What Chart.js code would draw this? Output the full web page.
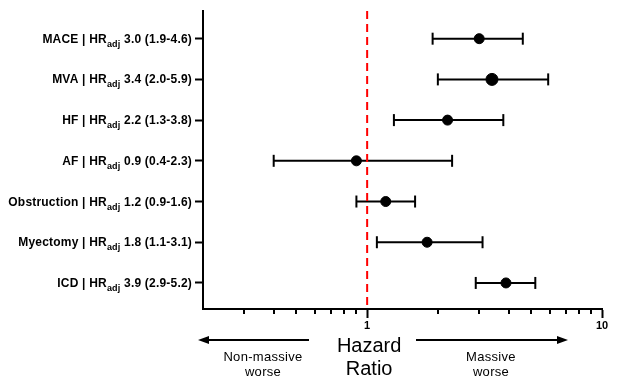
<!DOCTYPE html>
<html>
<head>
<meta charset="utf-8">
<script src="https://cdn.jsdelivr.net/npm/chart.js@4/dist/chart.umd.min.js"></script>
<style>
  html, body { margin: 0; padding: 0; background: #fff; }
  #wrap { width: 631px; height: 388px; }
</style>
</head>
<body>
<div id="wrap"><canvas id="forest"></canvas></div>
<script>
// outcomes, top to bottom
const outcomes = ['MACE', 'MVA', 'HF', 'AF', 'Obstruction', 'Myectomy', 'ICD'];
const hrAdj = [3.0, 3.4, 2.2, 0.9, 1.2, 1.8, 3.9];
const ciLow = [1.9, 2.0, 1.3, 0.4, 0.9, 1.1, 2.9];
const ciHigh = [4.6, 5.9, 3.8, 2.3, 1.6, 3.1, 5.2];
const majorTicks = [1, 10];
const minorTicks = [0.3, 0.4, 0.5, 0.6, 0.7, 0.8, 0.9, 2, 3, 4, 5, 6, 7, 8, 9];

const FONT = '"Liberation Sans", Arial, sans-serif';

// one line dataset per row for the confidence interval, caps are rotated 'line' points
const ciSets = outcomes.map((name, i) => ({
  type: 'line',
  label: name + ' CI',
  data: [{ x: ciLow[i], y: i }, { x: ciHigh[i], y: i }],
  borderColor: '#000',
  borderWidth: 2,
  pointStyle: 'line',
  rotation: 90,
  pointRadius: 6,
  pointBorderWidth: 2,
  pointBorderColor: '#000',
  order: 2
}));

const refLine = {
  type: 'line',
  label: 'HR = 1',
  data: [{ x: 1, y: -0.68 }, { x: 1, y: 6.64 }],
  borderColor: '#ff0000',
  borderWidth: 2,
  borderDash: [8, 5],
  pointRadius: 0,
  order: 1
};

const dots = {
  type: 'scatter',
  label: 'HR adj',
  data: outcomes.map((n, i) => ({ x: hrAdj[i], y: i })),
  backgroundColor: '#000',
  borderColor: '#000',
  pointRadius: ctx => ctx.dataIndex === 1 ? 6 : 5,
  order: 0
};

const labelsPlugin = {
  id: 'forestLabels',
  afterDraw(chart) {
    const ctx = chart.ctx;
    const y = chart.scales.y;
    const x = chart.scales.x;
    ctx.save();
    ctx.fillStyle = '#000';
    ctx.textBaseline = 'alphabetic';

    // row labels with subscript
    ctx.letterSpacing = '0.2px';
    outcomes.forEach((name, i) => {
      const py = y.getPixelForValue(i);
      const base = py + 4;
      const p1 = name + ' | HR';
      const p2 = 'adj';
      const p3 = ' ' + hrAdj[i].toFixed(1) + ' (' + ciLow[i].toFixed(1) + '-' + ciHigh[i].toFixed(1) + ')';
      ctx.font = 'bold 12px ' + FONT;
      const w1 = ctx.measureText(p1).width;
      const w3 = ctx.measureText(p3).width;
      ctx.font = 'bold 9px ' + FONT;
      const w2 = ctx.measureText(p2).width;
      let right = 192;
      ctx.textAlign = 'left';
      ctx.font = 'bold 12px ' + FONT;
      ctx.fillText(p3, right - w3, base);
      ctx.font = 'bold 9px ' + FONT;
      ctx.fillText(p2, right - w3 - w2, base + 4);
      ctx.font = 'bold 12px ' + FONT;
      ctx.fillText(p1, right - w3 - w2 - w1, base);
    });
    ctx.letterSpacing = '0px';

    // minor ticks on the x axis
    const axisY = x.top;
    ctx.strokeStyle = '#000';
    ctx.lineWidth = 2;
    minorTicks.forEach(v => {
      const px = Math.round(x.getPixelForValue(v));
      ctx.beginPath();
      ctx.moveTo(px, axisY);
      ctx.lineTo(px, axisY + 5);
      ctx.stroke();
    });

    // arrows and captions under the axis
    const cx = x.getPixelForValue(1);
    const ay = 340;
    const arrow = (from, to) => {
      const dir = Math.sign(to - from);
      ctx.beginPath();
      ctx.moveTo(from, ay);
      ctx.lineTo(to - dir * 9, ay);
      ctx.stroke();
      ctx.beginPath();
      ctx.moveTo(to, ay);
      ctx.lineTo(to - dir * 11, ay - 4);
      ctx.lineTo(to - dir * 11, ay + 4);
      ctx.closePath();
      ctx.fill();
    };
    arrow(309, x.left - 5);
    arrow(416, 568);

    ctx.textAlign = 'center';
    ctx.font = '20px ' + FONT;
    ctx.fillText('Hazard', cx + 2, 352);
    ctx.fillText('Ratio', cx + 2, 375);

    ctx.font = '13px ' + FONT;
    ctx.letterSpacing = '0.3px';
    ctx.fillText('Non-massive', 263, 361);
    ctx.fillText('worse', 263, 376);
    ctx.fillText('Massive', 491, 361);
    ctx.fillText('worse', 491, 376);
    ctx.restore();
  }
};

new Chart(document.getElementById('forest'), {
  data: { datasets: [dots, refLine, ...ciSets] },
  options: {
    responsive: true,
    maintainAspectRatio: false,
    animation: false,
    layout: { padding: { top: 11, right: 29, left: 0, bottom: 0 } },
    plugins: { legend: { display: false }, tooltip: { enabled: false } },
    scales: {
      x: {
        type: 'logarithmic',
        min: 0.2,
        max: 10,
        afterBuildTicks: s => { s.ticks = majorTicks.map(v => ({ value: v, major: true })); },
        afterFit: s => { s.height = 79; },
        border: { display: true, color: '#000', width: 2 },
        grid: { drawOnChartArea: false, tickLength: 9, tickWidth: 2, tickColor: '#000' },
        ticks: {
          padding: 1,
          color: '#000',
          font: { family: FONT, size: 11, weight: 'bold' },
          callback: v => String(v)
        }
      },
      y: {
        type: 'linear',
        reverse: true,
        min: -0.68,
        max: 6.64,
        afterBuildTicks: s => { s.ticks = outcomes.map((n, i) => ({ value: i })); },
        afterFit: s => { s.width = 203; },
        border: { display: true, color: '#000', width: 2 },
        grid: { drawOnChartArea: false, tickLength: 8, tickWidth: 2, tickColor: '#000' },
        ticks: { callback: () => '' }
      }
    }
  },
  plugins: [labelsPlugin]
});
</script>
</body>
</html>
